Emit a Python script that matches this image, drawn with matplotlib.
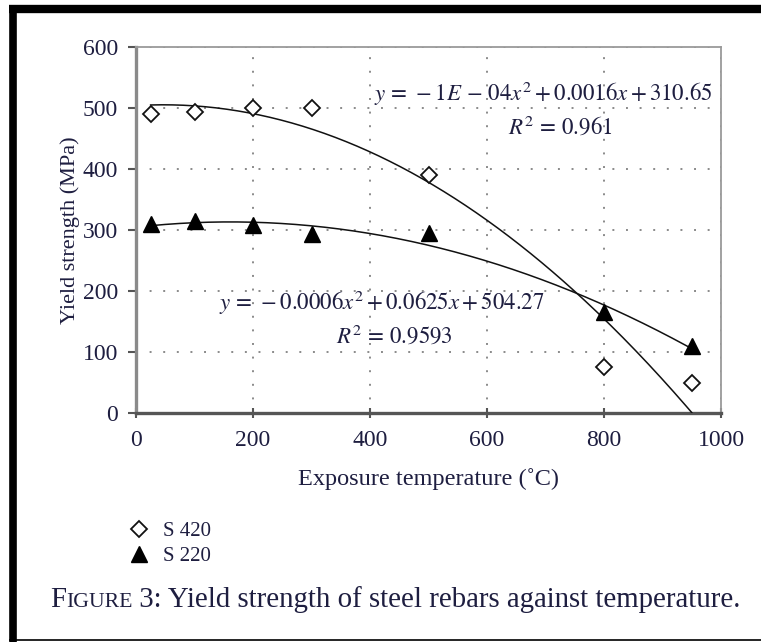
import numpy as np
import matplotlib
matplotlib.use("Agg")
import matplotlib.pyplot as plt
from matplotlib.lines import Line2D

# ---- data ----
temps = [25, 100, 200, 300, 500, 800, 950]
s420 = [490, 493, 500, 500, 390, 75, 50]
s220 = [310, 315, 308, 293, 295, 165, 110]
series_labels = ["S 420", "S 220"]
eq_s420 = r"$y\,=\,-1E\,-\,04x^2+0.0016x+310.65$"
r2_s420 = r"$R^2\,=\,0.961$"
eq_s220 = r"$y\,=\,-0.0006x^2+0.0625x+504.27$"
r2_s220 = r"$R^2\,=\,0.9593$"
xticks = [0, 200, 400, 600, 800, 1000]
yticks = [0, 100, 200, 300, 400, 500, 600]
xlabel = "Exposure temperature (\u02daC)"
ylabel = "Yield strength (MPa)"
caption_parts = ["F", "IGURE", " 3: Yield strength of steel rebars against temperature."]

plt.rcParams["font.family"] = ["Liberation Serif", "DejaVu Serif"]
plt.rcParams["mathtext.fontset"] = "stix"

W, H = 761, 642
fig = plt.figure(figsize=(W / 100, H / 100), dpi=100)
fig.patch.set_facecolor("white")

ax = fig.add_axes([136 / W, 1 - 413 / H, (721 - 136) / W, (413 - 47) / H])
txtc = "#1e1e40"

# trend lines (quadratic least-squares fits)
xs = np.linspace(temps[0], temps[-1], 300)
p420 = np.polyfit(temps, s420, 2)
p220 = np.polyfit(temps, s220, 2)
ax.plot(xs, np.polyval(p420, xs), color="#111111", lw=1.1, zorder=3)
ax.plot(xs, np.polyval(p220, xs), color="#111111", lw=1.1, zorder=3)

ax.plot(temps, s420, ls="none", marker="D", ms=8.5, mfc="white", mec="#111111",
        mew=1.3, zorder=4, label=series_labels[0])
ax.plot(temps, s220, ls="none", marker="^", ms=11, mfc="black", mec="black",
        zorder=4, label=series_labels[1])

ax.set_xlim(0, 1000)
ax.set_ylim(0, 600)
ax.set_xticks(xticks)
ax.set_yticks(yticks)
ax.grid(True, color="#8a8a8a", lw=1.4, ls=(0, (1, 6)))
ax.set_axisbelow(True)

for s in ["top", "right"]:
    ax.spines[s].set_color("#9a9a9a")
    ax.spines[s].set_linewidth(1.3)
ax.spines["left"].set_color("#8a8a8a")
ax.spines["left"].set_linewidth(2.4)
ax.spines["bottom"].set_color("#555555")
ax.spines["bottom"].set_linewidth(2.4)

ax.tick_params(axis="y", direction="out", length=6, width=1.5, color="#555555",
               labelsize=17, labelcolor=txtc, pad=7)
ax.tick_params(axis="x", direction="inout", length=7, width=1.5, color="#555555",
               labelsize=17, labelcolor=txtc, pad=9)

ax.set_xlabel(xlabel, fontsize=17.5, color=txtc, labelpad=12)
ax.set_ylabel(ylabel, fontsize=16, color=txtc, labelpad=2)

ax.text(697, 523, eq_s420, ha="center", va="center", fontsize=16.5, color=txtc)
ax.text(725, 469, r2_s420, ha="center", va="center", fontsize=16.5, color=txtc)
ax.text(420, 180, eq_s220, ha="center", va="center", fontsize=16.5, color=txtc)
ax.text(442, 126, r2_s220, ha="center", va="center", fontsize=16.5, color=txtc)

# legend below plot
h = [Line2D([], [], ls="none", marker="D", ms=8.5, mfc="white", mec="#111111", mew=1.3),
     Line2D([], [], ls="none", marker="^", ms=11, mfc="black", mec="black")]
fig.legend(h, series_labels, loc="upper left", bbox_to_anchor=(108 / W, 1 - 503 / H),
           frameon=False, fontsize=15, handletextpad=0.55, labelspacing=0.25,
           labelcolor=txtc, handlelength=1.2)

# caption with small caps "Figure"
renderer = fig.canvas.get_renderer()
x0 = 50 / W
yb = 1 - 607 / H
sizes = [20.8, 15.7, 20.8]
for part, sz in zip(caption_parts, sizes):
    t = fig.text(x0, yb, part, fontsize=sz, va="baseline", ha="left", color=txtc)
    bb = t.get_window_extent(renderer)
    x0 = bb.x1 / W

# figure border
fig.add_artist(Line2D([9 / W, 1.0], [1 - 9 / H, 1 - 9 / H], color="black", lw=6,
                      transform=fig.transFigure, solid_capstyle="butt"))
fig.add_artist(Line2D([12.5 / W, 12.5 / W], [0, 1 - 5 / H], color="black", lw=5.5,
                      transform=fig.transFigure, solid_capstyle="butt"))
fig.add_artist(Line2D([9 / W, 1.0], [1 - 639.5 / H, 1 - 639.5 / H], color="black", lw=1.2,
                      transform=fig.transFigure, solid_capstyle="butt"))

fig.savefig("out.png", dpi=100)
